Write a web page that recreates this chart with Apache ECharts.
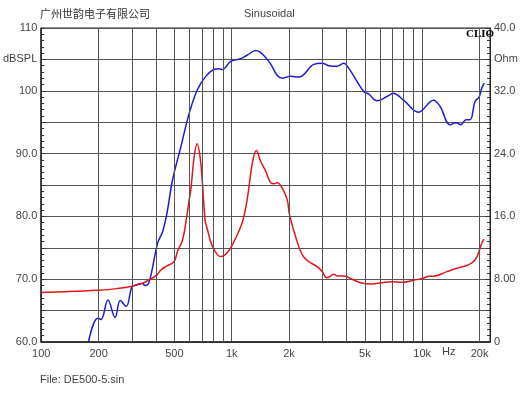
<!DOCTYPE html>
<html>
<head>
<meta charset="utf-8">
<script src="https://cdn.jsdelivr.net/npm/echarts@6/dist/echarts.min.js"></script>
<style>
  html, body { margin: 0; padding: 0; background: #fff; }
  #chart { width: 530px; height: 398px; }
</style>
</head>
<body>
<div id="chart"></div>
<script>
// SPL (dB) curve
const splFreq = [177, 198, 206, 224, 244, 260, 279, 299, 314, 341, 350, 362, 377, 408, 434, 457, 489, 541, 598, 661,
  731, 808, 858, 894, 988, 1115, 1208, 1336, 1538, 1843, 2037, 2251, 2697, 2985, 3232, 3576, 3873, 4113, 4928, 5235,
  5791, 6800, 7025, 7983, 9560, 11460, 12420, 14020, 15070, 15950, 17000, 17840, 18950, 19880, 20540, 21200];
const splValues = [60.0, 63.8, 63.6, 66.7, 63.9, 66.6, 65.7, 68.7, 69.1, 69.3, 69.0, 69.1, 70.7, 75.7, 77.6, 80.5, 85.8, 91.1, 96.4, 100.2,
  102.3, 103.4, 103.5, 103.4, 104.7, 105.1, 105.7, 106.4, 105.0, 102.0, 102.3, 102.2, 104.2, 104.4, 104.0, 103.9, 104.4, 103.6, 99.9, 99.5,
  98.4, 99.4, 99.6, 98.5, 96.6, 98.5, 97.5, 94.6, 94.9, 94.6, 95.4, 95.4, 98.3, 99.0, 100.4, 101.2];

// impedance (Ohm) curve
const impFreq = [100, 150, 200, 250, 300, 340, 362, 377, 405, 425, 457, 497, 520, 552, 581, 598, 610, 635, 658, 682,
  702, 725, 746, 793, 876, 950, 1028, 1138, 1208, 1283, 1347, 1419, 1507, 1600, 1666, 1735, 1843, 1957, 2012, 2163,
  2346, 2539, 2810, 2985, 3144, 3232, 3432, 3576, 3954, 4285, 4736, 5453, 6152, 6940, 7830, 9000, 10160, 10790, 11460, 13470,
  15190, 17480, 18950, 19710, 20540, 21120];
const impValues = [6.29, 6.47, 6.59, 6.8, 7.1, 7.49, 7.8, 8.04, 8.55, 9.18, 9.69, 10.2, 11.6, 13.0, 16.0, 18.1, 19.4, 23.6, 25.25, 23.6,
  20.2, 15.56, 14.29, 12.16, 10.88, 11.39, 12.79, 15.3, 18.3, 22.8, 24.4, 23.0, 21.8, 20.3, 20.15, 20.3, 19.6, 18.1, 16.2, 13.43,
  11.1, 10.24, 9.6, 8.97, 8.2, 8.25, 8.63, 8.42, 8.38, 8.0, 7.56, 7.4, 7.56, 7.69, 7.6, 7.87, 8.12, 8.38, 8.38, 8.97,
  9.4, 9.82, 10.46, 11.3, 12.59, 13.1];

// axis ticks / labels
const freqLabels = [100, 200, 500, 1000, 2000, 5000, 10000, 20000];
const freqLabelText = ['100', '200', '500', '1k', '2k', '5k', '10k', '20k'];
const freqGrid = [200, 300, 400, 500, 600, 700, 800, 900, 2000, 3000, 4000, 5000, 6000, 7000, 8000, 9000, 20000];
const splLabels = { 110: '110', 105: 'dBSPL', 100: '100', 90: '90.0', 80: '80.0', 70: '70.0', 60: '60.0' };
const ohmLabels = { 40: '40.0', 36: 'Ohm', 32: '32.0', 24: '24.0', 16: '16.0', 8: '8.00', 0: '0' };

const chart = echarts.init(document.getElementById('chart'));
const labelFont = { color: '#444', fontSize: 11, fontFamily: 'Liberation Sans, Arial, sans-serif' };

const option = {
  animation: false,
  backgroundColor: '#fff',
  grid: { left: 40, right: 40, top: 28, bottom: 56, show: true, borderColor: '#222', borderWidth: 1 },
  xAxis: [
    {
      type: 'log',
      logBase: 10,
      min: 100,
      max: 22700,
      axisLine: { show: true, lineStyle: { color: '#222', width: 1.5 } },
      axisTick: { show: false },
      splitLine: { show: true, lineStyle: { color: '#555', width: 1 } },
      axisLabel: {
        ...labelFont,
        margin: 6,
        customValues: freqLabels,
        formatter: (v) => {
          const i = freqLabels.findIndex((f) => Math.abs(f - v) < 1);
          return i >= 0 ? freqLabelText[i] : '';
        },
      },
    },
  ],
  yAxis: [
    {
      type: 'value',
      min: 60,
      max: 110,
      interval: 5,
      axisLine: { show: true, lineStyle: { color: '#222', width: 1.5 } },
      axisTick: { show: true, inside: true, length: 4, lineStyle: { color: '#333' } },
      minorTick: { show: true, splitNumber: 5, length: 3, lineStyle: { color: '#333' } },
      splitLine: { show: true, lineStyle: { color: '#555', width: 1 } },
      axisLabel: { ...labelFont, margin: 4, formatter: (v) => splLabels[v] || '' },
    },
    {
      type: 'value',
      min: 0,
      max: 40,
      interval: 4,
      position: 'right',
      axisLine: { show: true, lineStyle: { color: '#222', width: 1 } },
      axisTick: { show: true, inside: true, length: 4, lineStyle: { color: '#333' } },
      minorTick: { show: true, splitNumber: 5, length: 3, lineStyle: { color: '#333' } },
      splitLine: { show: false },
      axisLabel: { ...labelFont, margin: 4, formatter: (v) => ohmLabels[v] || '' },
    },
  ],
  series: [
    {
      name: 'SPL',
      type: 'line',
      yAxisIndex: 0,
      data: splFreq.map((f, i) => [f, splValues[i]]),
      symbol: 'none',
      smooth: 0.4,
      lineStyle: { color: '#1c1cd8', width: 1.5 },
      z: 3,
      // vertical grid lines inside each decade
      markLine: {
        silent: true,
        symbol: 'none',
        label: { show: false },
        lineStyle: { color: '#555', width: 1, type: 'solid' },
        data: freqGrid.map((f) => ({ xAxis: f })),
      },
    },
    {
      name: 'Impedance',
      type: 'line',
      yAxisIndex: 1,
      data: impFreq.map((f, i) => [f, impValues[i]]),
      symbol: 'none',
      smooth: 0.4,
      lineStyle: { color: '#e3141c', width: 1.5 },
      z: 3,
    },
  ],
  graphic: [
    { type: 'text', left: 40, top: 8, style: { text: '广州世韵电子有限公司', fill: '#333', fontSize: 11, fontFamily: 'Noto Sans CJK SC' } },
    { type: 'text', left: 244, top: 8, style: { text: 'Sinusoidal', fill: '#444', fontSize: 11, fontFamily: 'Liberation Sans, Arial' } },
    { type: 'text', left: 466, top: 29, style: { text: 'CLIO', fill: '#000', fontSize: 11, fontWeight: 'bold', fontFamily: 'Liberation Serif, serif' } },
    { type: 'text', left: 442, top: 346, style: { text: 'Hz', fill: '#444', fontSize: 11, fontFamily: 'Liberation Sans, Arial' } },
    { type: 'text', left: 40, top: 374, style: { text: 'File: DE500-5.sin', fill: '#444', fontSize: 11, fontFamily: 'Liberation Sans, Arial' } },
  ],
};

chart.setOption(option);
</script>
</body>
</html>
